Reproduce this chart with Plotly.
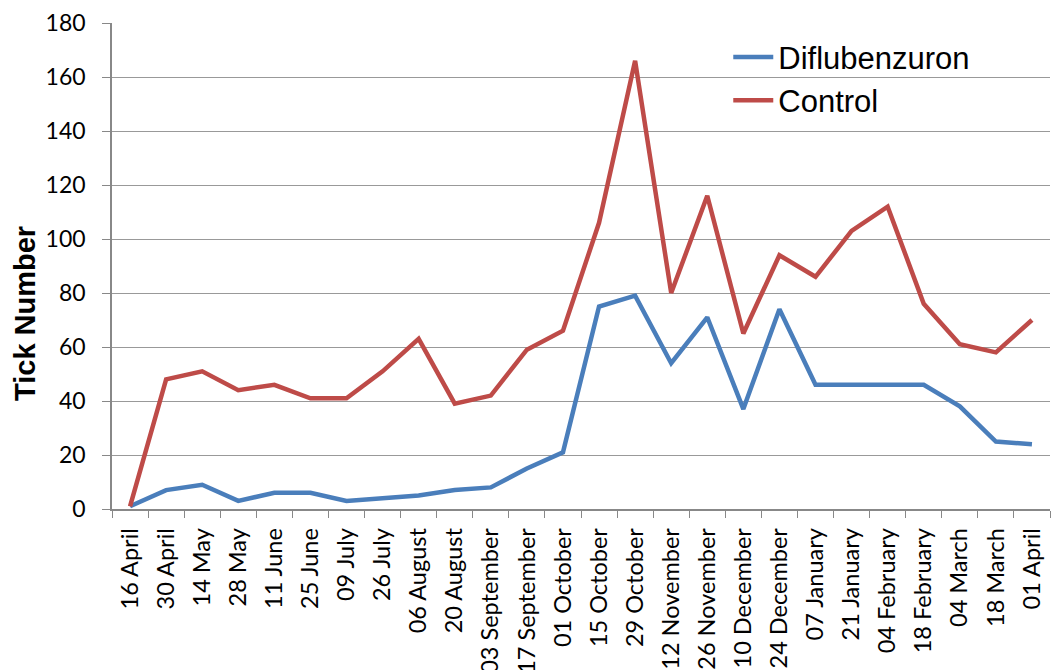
import plotly.graph_objects as go

dates = ["16 April", "30 April", "14 May", "28 May", "11 June", "25 June", "09 July",
         "26 July", "06 August", "20 August", "03 September", "17 September",
         "01 October", "15 October", "29 October", "12 November", "26 November",
         "10 December", "24 December", "07 January", "21 January", "04 February",
         "18 February", "04 March", "18 March", "01 April"]
diflubenzuron = [1, 7, 9, 3, 6, 6, 3, 4, 5, 7, 8, 15, 21, 75, 79, 54, 71, 37, 74,
                 46, 46, 46, 46, 38, 25, 24]
control = [1, 48, 51, 44, 46, 41, 41, 51, 63, 39, 42, 59, 66, 106, 166, 80, 116,
           65, 94, 86, 103, 112, 76, 61, 58, 70]
y_ticks = [0, 20, 40, 60, 80, 100, 120, 140, 160, 180]

fig = go.Figure()
fig.add_trace(go.Scatter(x=dates, y=diflubenzuron, mode="lines", name="Diflubenzuron",
                         line=dict(color="#4A7EBB", width=4.5)))
fig.add_trace(go.Scatter(x=dates, y=control, mode="lines", name="Control",
                         line=dict(color="#BE4B48", width=4.5)))

fig.update_layout(
    width=1051, height=670,
    margin=dict(l=112, r=1, t=23, b=161),
    paper_bgcolor="white", plot_bgcolor="white",
    showlegend=True,
    legend=dict(x=0.657, y=0.985, xanchor="left", yanchor="top",
                font=dict(family="Liberation Sans", size=31, color="black"),
                bgcolor="rgba(0,0,0,0)", tracegroupgap=0, itemwidth=40),
    xaxis=dict(type="category", range=[-0.5, 25.5], tickangle=-90,
               tickson="boundaries", ticks="outside", ticklen=7, tickcolor="#888888",
               showline=True, linecolor="#888888", linewidth=1.5,
               showgrid=False, tickfont=dict(family="Lato", size=23.5, color="black"),
               automargin=False, ticklabelstandoff=8),
    yaxis=dict(range=[0, 180], tickvals=y_ticks, ticks="outside", ticklen=8,
               tickcolor="#888888", showline=True, linecolor="#888888", linewidth=1.5,
               showgrid=True, gridcolor="#999999", gridwidth=1.2,
               tickfont=dict(family="Lato", size=23, color="black"),
               automargin=False, zeroline=False, ticklabelstandoff=12),
    annotations=[dict(text="<b>Tick Number</b>", xref="paper", yref="paper",
                      x=(25 - 112) / 938, y=(509 - 314) / 486, xanchor="center",
                      yanchor="middle", textangle=-90, showarrow=False,
                      font=dict(family="Liberation Sans", size=29, color="black"))],
)
fig.write_html("out.html", config={"displayModeBar": False},
               post_script="document.body.style.margin='0';")
